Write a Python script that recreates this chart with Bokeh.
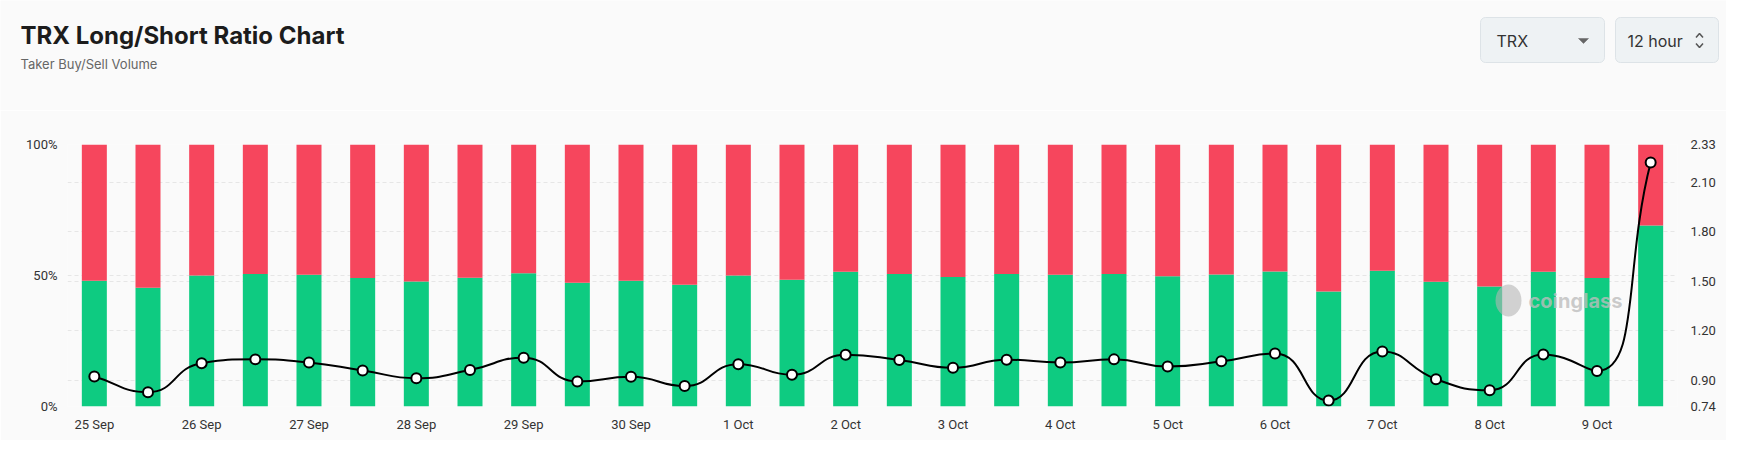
from math import hypot
from bokeh.plotting import figure
from bokeh.layouts import column
from bokeh.models import (Range1d, LinearAxis, FixedTicker, Grid, Label,
                          PrintfTickFormatter)
from bokeh.core.properties import value
from bokeh.embed import file_html
from bokeh.resources import INLINE

# ---------------- data ----------------
days = ["25 Sep", "26 Sep", "27 Sep", "28 Sep", "29 Sep", "30 Sep", "1 Oct",
        "2 Oct", "3 Oct", "4 Oct", "5 Oct", "6 Oct", "7 Oct", "8 Oct", "9 Oct"]
periods = [f"{d} {h}" for d in days for h in ("00:00", "12:00")]

buy_pct = [48.0, 45.3, 50.0, 50.6, 50.3, 49.0, 47.7, 49.1, 50.9, 47.2,
           48.0, 46.5, 50.0, 48.4, 51.4, 50.6, 49.4, 50.6, 50.3, 50.6,
           49.7, 50.4, 51.5, 43.9, 51.8, 47.6, 45.8, 51.4, 49.0, 69.1]

ratio = [0.922, 0.827, 1.003, 1.026, 1.007, 0.959, 0.912, 0.961, 1.036, 0.892,
         0.920, 0.864, 0.997, 0.933, 1.054, 1.022, 0.975, 1.024, 1.007, 1.026,
         0.983, 1.014, 1.062, 0.776, 1.074, 0.906, 0.839, 1.056, 0.955, 2.221]

left_ticks = [0, 50, 100]
right_ticks = [0.74, 0.90, 1.20, 1.50, 1.80, 2.10, 2.33]
ratio_min, ratio_max = 0.74, 2.33

title_text = "TRX Long/Short Ratio Chart"
subtitle_text = "Taker Buy/Sell Volume"
symbol_text = "TRX"
interval_text = "12 hour"
watermark_text = "coinglass"

GREEN = "#0ecb81"
RED = "#f6465d"
BG = "#fafafa"

xs = list(range(len(periods)))
n = len(xs)

W = 1726
HEAD_H = 110

# ---------------- header (title + selectors) ----------------
hd = figure(width=W, height=HEAD_H, output_backend="svg", toolbar_location=None,
            x_range=Range1d(0, W), y_range=Range1d(HEAD_H, 0),
            min_border=0, x_axis_location=None, y_axis_location=None)
hd.background_fill_color = BG
hd.border_fill_color = BG
hd.outline_line_color = None
hd.grid.visible = False
try:
    hd.frame_align = False
except Exception:
    pass

hd.text(x=[20], y=[35], text=[title_text], text_font=value("Inter"),
        text_font_size=value("24px"), text_font_style="bold",
        text_color="#1c1c1c", text_baseline="alphabetic")
hd.text(x=[20], y=[63], text=[subtitle_text], text_font=value("Inter"),
        text_font_size=value("13px"), text_color="#666666", text_baseline="alphabetic")

hd.quad(left=[1480, 1615], right=[1604, 1718], top=[17, 17], bottom=[62, 62],
        fill_color="#eef2f4", line_color="#dde3e7", line_width=1, border_radius=5)
hd.text(x=[1496], y=[40], text=[symbol_text], text_font=value("Inter"),
        text_font_size=value("16px"), text_color="#333333", text_baseline="middle")
hd.text(x=[1627], y=[40], text=[interval_text], text_font=value("Inter"),
        text_font_size=value("16px"), text_color="#333333", text_baseline="middle")
# dropdown caret
hd.patch(x=[1578, 1588, 1583], y=[38, 38, 43], fill_color="#666666", line_color="#666666",
         line_width=0.5)
# up/down chevrons
hd.line(x=[1695.5, 1699, 1702.5], y=[37, 33, 37], line_color="#555555", line_width=1.5)
hd.line(x=[1695.5, 1699, 1702.5], y=[43, 47, 43], line_color="#555555", line_width=1.5)

# ---------------- main chart ----------------
BL, BR, BT, BB = 67, 49, 34, 34
FW = W - BL - BR
FH = 262
H = BT + FH + BB

p = figure(width=W, height=H, output_backend="svg", toolbar_location=None,
           x_range=Range1d(-0.5, n - 0.5), y_range=Range1d(0, 100),
           min_border_left=BL, min_border_right=BR,
           min_border_top=BT, min_border_bottom=BB)
try:
    p.frame_align = False
except Exception:
    pass
p.extra_y_ranges = {"ratio": Range1d(ratio_min, ratio_max)}
p.background_fill_color = BG
p.border_fill_color = BG
p.outline_line_color = None

AX_FONT = "Roboto"
AX_COLOR = "#333333"


def style_axis(ax, standoff):
    ax.axis_line_color = None
    ax.major_tick_line_color = None
    ax.minor_tick_line_color = None
    ax.major_tick_out = 0
    ax.major_tick_in = 0
    ax.minor_tick_out = 0
    ax.minor_tick_in = 0
    ax.major_label_standoff = standoff
    ax.major_label_text_font = AX_FONT
    ax.major_label_text_font_size = "13px"
    ax.major_label_text_color = AX_COLOR


xa = p.xaxis[0]
xa.ticker = FixedTicker(ticks=[2 * i for i in range(len(days))])
xa.major_label_overrides = {2 * i: d for i, d in enumerate(days)}
style_axis(xa, 10)

ya = p.yaxis[0]
ya.ticker = FixedTicker(ticks=left_ticks)
ya.formatter = PrintfTickFormatter(format="%d%%")
style_axis(ya, 10)

ra = LinearAxis(y_range_name="ratio", ticker=FixedTicker(ticks=right_ticks),
                formatter=PrintfTickFormatter(format="%.2f"))
style_axis(ra, 13)
p.add_layout(ra, "right")

p.xgrid.visible = False
p.ygrid.ticker = FixedTicker(ticks=left_ticks)
p.ygrid.grid_line_color = "#e6e6e6"
p.ygrid.grid_line_dash = "4 3"
rgrid = Grid(dimension=1, ticker=FixedTicker(ticks=right_ticks), y_range_name="ratio",
             grid_line_color="#e6e6e6", grid_line_dash="4 3")
p.add_layout(rgrid)

BAR_W = 0.466
p.vbar(x=xs, bottom=0, top=buy_pct, width=BAR_W, fill_color=GREEN, line_color=None)
p.vbar(x=xs, bottom=buy_pct, top=100, width=BAR_W, fill_color=RED, line_color=None)


def X(px):
    return -0.5 + (px - BL) / FW * n


def Y(py):
    return (BT + FH - py) / FH * 100


# watermark logo (decorative blob) + text
p.ellipse(x=[X(1508)], y=[Y(300 - HEAD_H)], width=26, height=32,
          width_units="screen", height_units="screen",
          fill_color="#b5b5b5", fill_alpha=0.6, line_color=None)

# smooth line: bezier segments through the data points (echarts-style smoothing)
PXX = FW / n
PXY = FH / (ratio_max - ratio_min)
pts = [(x * PXX, r * PXY) for x, r in zip(xs, ratio)]


def clamp(v, a, b):
    return max(min(a, b), min(max(a, b), v))


S = 0.5
cp_before, cp_after = [], []
for i in range(n):
    x, y = pts[i]
    px_, py_ = pts[i - 1] if i > 0 else pts[i]
    nx_, ny_ = pts[i + 1] if i < n - 1 else pts[i]
    vx, vy = nx_ - px_, ny_ - py_
    lp = hypot(x - px_, y - py_)
    ln = hypot(nx_ - x, ny_ - y)
    rn = ln / (lp + ln) if (lp + ln) > 0 else 0.5
    c1x = clamp(x + vx * S * rn, x, nx_)
    c1y = clamp(y + vy * S * rn, y, ny_)
    if lp > 0 and ln > 0:
        ax, ay = c1x - x, c1y - y
        c0x = clamp(x - ax * lp / ln, px_, x)
        c0y = clamp(y - ay * lp / ln, py_, y)
        bx, by = x - c0x, y - c0y
        c1x, c1y = x + bx * ln / lp, y + by * ln / lp
    else:
        c0x = clamp(x - vx * S * (1 - rn), px_, x)
        c0y = clamp(y - vy * S * (1 - rn), py_, y)
    cp_before.append((c0x / PXX, c0y / PXY))
    cp_after.append((c1x / PXX, c1y / PXY))

p.bezier(x0=xs[:-1], y0=ratio[:-1], x1=xs[1:], y1=ratio[1:],
         cx0=[c[0] for c in cp_after[:-1]], cy0=[c[1] for c in cp_after[:-1]],
         cx1=[c[0] for c in cp_before[1:]], cy1=[c[1] for c in cp_before[1:]],
         line_color="black", line_width=2, y_range_name="ratio")

p.scatter(x=xs, y=ratio, marker="circle", size=10, fill_color="white",
          line_color="black", line_width=2, y_range_name="ratio")

p.add_layout(Label(x=X(1528), y=Y(300 - HEAD_H), text=watermark_text,
                   text_font="Inter", text_font_size="20px", text_font_style="bold",
                   text_color="#bdbdbd", text_alpha=0.8, text_baseline="middle"))

layout = column(hd, p, spacing=0)
open("out.html", "w").write(file_html(layout, INLINE))
